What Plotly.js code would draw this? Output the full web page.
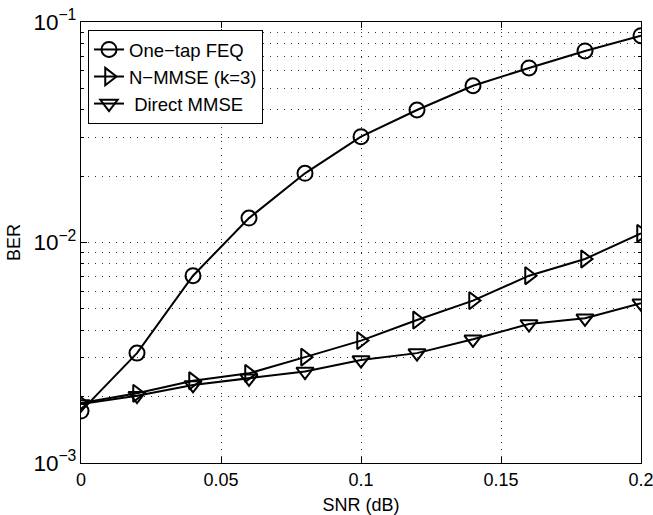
<!DOCTYPE html>
<html>
<head>
<meta charset="utf-8">
<script src="https://cdn.plot.ly/plotly-3.0.1.min.js"></script>
<style>html,body{margin:0;padding:0;background:#fff;}#chart{width:653px;height:515px;}</style>
</head>
<body>
<div id="chart"></div>
<script>
const snr = [0, 0.02, 0.04, 0.06, 0.08, 0.1, 0.12, 0.14, 0.16, 0.18, 0.2];
const berOneTap = [0.00172, 0.00315, 0.00707, 0.0129, 0.0206, 0.0302, 0.0399, 0.0514, 0.0619, 0.0739, 0.0867];
const berNMMSE = [0.00187, 0.00207, 0.00236, 0.00255, 0.00302, 0.00359, 0.00445, 0.00545, 0.00707, 0.00842, 0.0110];
const berDirect = [0.00185, 0.00202, 0.00226, 0.00242, 0.00260, 0.00293, 0.00315, 0.00364, 0.00427, 0.00453, 0.00530];
const seriesNames = ['One\u2212tap FEQ', 'N\u2212MMSE (k=3)', '\u00a0Direct MMSE'];

const font = {family: 'Liberation Sans, Arial, Helvetica, sans-serif', size: 18, color: '#000'};
const legendFont = {family: 'Liberation Sans, Arial, Helvetica, sans-serif', size: 18.5, color: '#000'};
function mk(y, name, sym) {
  return {
    x: snr, y: y, name: name, type: 'scatter', mode: 'lines+markers',
    line: {color: '#000', width: 2},
    marker: {symbol: sym, size: 15, color: '#000', line: {color: '#000', width: 2}}
  };
}
const data = [
  mk(berOneTap, seriesNames[0], 'circle-open'),
  mk(berNMMSE, seriesNames[1], 'triangle-right-open'),
  mk(berDirect, seriesNames[2], 'triangle-down-open')
];
const gridDash = '1px,6px';
const layout = {
  width: 653, height: 515,
  margin: {l: 81, r: 12, t: 22, b: 52},
  paper_bgcolor: '#fff', plot_bgcolor: '#fff',
  font: font,
  showlegend: true,
  legend: {
    x: 0.0125, y: 0.982, xanchor: 'left', yanchor: 'top',
    bgcolor: '#fff', bordercolor: '#000', borderwidth: 1,
    font: legendFont, tracegroupgap: 0, itemwidth: 30
  },
  xaxis: {
    range: [0, 0.2], dtick: 0.05, tick0: 0,
    ticks: 'inside', ticklen: 6, tickcolor: '#000',
    showline: true, linecolor: '#000', linewidth: 1, mirror: 'ticks',
    showgrid: true, gridcolor: '#333', gridwidth: 1, griddash: gridDash,
    zeroline: false, ticklabeloverflow: 'allow',
    tickfont: font,
    title: {text: 'SNR (dB)', font: font, standoff: 12}
  },
  yaxis: {
    type: 'log', range: [-3, -1], dtick: 1,
    exponentformat: 'power', ticklabeloverflow: 'allow',
    ticks: 'inside', ticklen: 6, tickcolor: '#000',
    showline: true, linecolor: '#000', linewidth: 1, mirror: 'ticks',
    showgrid: true, gridcolor: '#333', gridwidth: 1, griddash: gridDash,
    zeroline: false,
    tickfont: font,
    minor: {dtick: 'D1', ticks: 'inside', ticklen: 3, tickcolor: '#000', showgrid: true, gridcolor: '#333', gridwidth: 1, griddash: gridDash},
    title: {text: 'BER', font: font, standoff: 8}
  }
};
Plotly.newPlot('chart', data, layout, {displayModeBar: false, staticPlot: true});
</script>
</body>
</html>
